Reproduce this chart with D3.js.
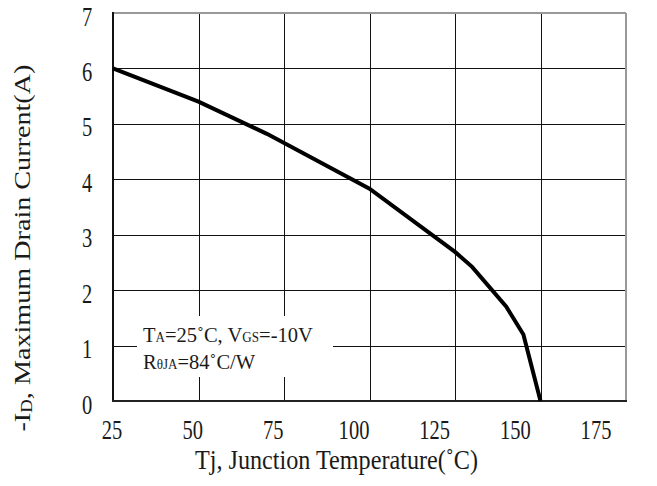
<!DOCTYPE html>
<html><head><meta charset="utf-8">
<script src="https://cdn.jsdelivr.net/npm/d3@7"></script>
<style>
body{margin:0;background:#fff}
text{font-family:"Liberation Serif","Times New Roman",serif;fill:#1a1a1a}
</style>
</head><body>
<svg id="c" width="657" height="486"></svg>
<script>
const temps = [25, 50, 70, 100, 125, 130, 140, 145, 150];
const current = [6.0, 5.4, 4.82, 3.83, 2.69, 2.42, 1.70, 1.20, 0];
const xTicks = [25, 50, 75, 100, 125, 150, 175];
const yTicks = [0, 1, 2, 3, 4, 5, 6, 7];
const xTitle = "Tj, Junction Temperature(˚C)";
const yTitleMain = "-I";
const yTitleSub = "D";
const yTitleRest = ", Maximum Drain Current(A)";

const svg = d3.select("#c");
const x = d3.scaleLinear().domain([25, 175]).range([113, 626]);
const y = d3.scaleLinear().domain([0, 7]).range([401, 13]);
// tick labels in the reference are spaced slightly tighter than the grid
const xLab = d3.scaleLinear().domain([25, 175]).range([112, 596]);

// grid
const grid = svg.append("g").attr("stroke", "#111").attr("stroke-width", 1).attr("shape-rendering", "crispEdges");
grid.selectAll("line.v").data(xTicks.slice(1, -1)).join("line")
  .attr("x1", d => Math.round(x(d)) + 0.5).attr("x2", d => Math.round(x(d)) + 0.5)
  .attr("y1", y(7)).attr("y2", y(0));
grid.selectAll("line.h").data(yTicks.slice(1, -1)).join("line")
  .attr("y1", d => Math.round(y(d)) + 0.5).attr("y2", d => Math.round(y(d)) + 0.5)
  .attr("x1", x(25)).attr("x2", x(175));

// frame
svg.append("line").attr("x1", x(25)).attr("x2", x(175)).attr("y1", y(7)).attr("y2", y(7))
  .attr("stroke", "#999").attr("stroke-width", 2);
svg.append("line").attr("x1", x(175)).attr("x2", x(175)).attr("y1", y(7)).attr("y2", y(0))
  .attr("stroke", "#999").attr("stroke-width", 2);
svg.append("line").attr("x1", x(25)).attr("x2", x(25)).attr("y1", y(7) - 1).attr("y2", y(0) + 1)
  .attr("stroke", "#111").attr("stroke-width", 2);
svg.append("line").attr("x1", x(25) - 1).attr("x2", x(175) + 1).attr("y1", y(0)).attr("y2", y(0))
  .attr("stroke", "#222").attr("stroke-width", 2);

// legend box (white, covers grid)
svg.append("rect").attr("x", 137).attr("y", 316).attr("width", 196).attr("height", 61).attr("fill", "#fff");
const leg = svg.append("g");
const l1 = leg.append("text").attr("x", 0).attr("y", 0).attr("font-size", 22);
l1.append("tspan").text("T");
l1.append("tspan").attr("font-size", 14).text("A");
l1.append("tspan").text("=25˚C, V");
l1.append("tspan").attr("font-size", 14).text("GS");
l1.append("tspan").text("=-10V");
const l2 = leg.append("text").attr("x", 0).attr("y", 27).attr("font-size", 22);
l2.append("tspan").text("R");
l2.append("tspan").attr("font-size", 14).text("θJA");
l2.append("tspan").text("=84˚C/W");
const w1 = l1.node().getComputedTextLength();
const s1 = 170 / w1;
leg.attr("transform", `translate(143,342) scale(${s1},1)`);

// curve
const pts = temps.map((t, i) => [t, current[i]]);
svg.append("path").datum(pts)
  .attr("fill", "none").attr("stroke", "#000").attr("stroke-width", 4).attr("stroke-linejoin", "miter")
  .attr("d", d3.line().x(d => x(d[0])).y(d => y(d[1])));

// x tick labels
svg.append("g").selectAll("text").data(xTicks).join("text")
  .attr("font-size", 27).attr("text-anchor", "middle")
  .attr("transform", d => `translate(${xLab(d)},439) scale(0.76,1)`)
  .text(d => d);
// y tick labels
svg.append("g").selectAll("text").data(yTicks).join("text")
  .attr("font-size", 27).attr("text-anchor", "middle")
  .attr("transform", d => `translate(87,${y(d) + 12.5}) scale(0.76,1)`)
  .text(d => d);

// x title
svg.append("text").attr("font-size", 28).attr("text-anchor", "middle")
  .attr("x", 336.5).attr("y", 469).attr("textLength", 283).attr("lengthAdjust", "spacingAndGlyphs")
  .text(xTitle);

// y title
const yt = svg.append("text").attr("font-size", 24)
  .attr("transform", "translate(30,248) rotate(-90)");
yt.append("tspan").text(yTitleMain);
yt.append("tspan").attr("font-size", 16).attr("dy", 2).text(yTitleSub);
yt.append("tspan").attr("dy", -2).text(yTitleRest);
const wy = yt.node().getComputedTextLength();
const sy = 367 / wy;
yt.attr("transform", `translate(30,248) rotate(-90) scale(${sy},1) translate(${-wy / 2},0)`);
</script>
</body></html>
